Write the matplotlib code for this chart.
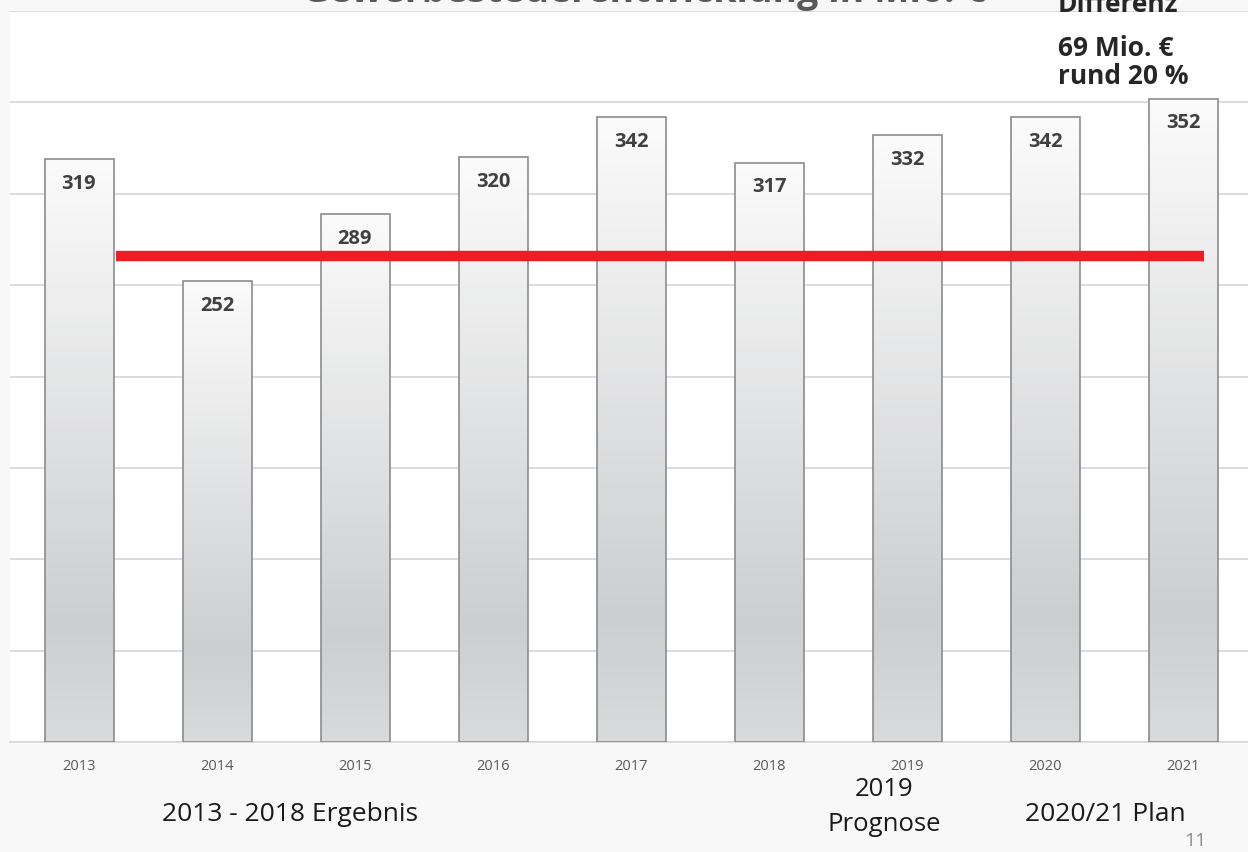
import matplotlib.pyplot as plt
import numpy as np
from matplotlib.colors import LinearSegmentedColormap

years = ["2013", "2014", "2015", "2016", "2017", "2018", "2019", "2020", "2021"]
values = [319, 252, 289, 320, 342, 317, 332, 342, 352]
red_level = 266
red_span = [0.27, 8.15]

plt.rcParams["font.family"] = ["Open Sans", "DejaVu Sans"]

fig = plt.figure(figsize=(12.48, 8.53), dpi=100, facecolor="#f8f8f8")
ax = fig.add_axes([10 / 1248, 1 - 743 / 853, 1242 / 1248, (743 - 12) / 853])
ax.set_facecolor("white")

ax.set_xlim(-0.5, len(years) - 0.5)
ax.set_ylim(0, 400)
ax.set_yticks(range(0, 401, 50))
ax.yaxis.grid(True, color="#d9d9d9", linewidth=1.3)
ax.set_axisbelow(True)
for side in ["left", "right", "top"]:
    ax.spines[side].set_visible(False)
ax.spines["bottom"].set_color("#d9d9d9")
ax.spines["bottom"].set_linewidth(1.3)
ax.tick_params(axis="y", left=False, labelleft=False)
ax.tick_params(axis="x", bottom=False, labelsize=10.5, labelcolor="#595959", pad=8)
ax.set_xticks(range(len(years)))
ax.set_xticklabels(years)

grad_cmap = LinearSegmentedColormap.from_list(
    "bar", [(0.0, "#fbfbfb"), (0.8, "#cdced0"), (1.0, "#d9dadc")])
grad = np.linspace(0, 1, 256).reshape(-1, 1)

width = 0.5
bars = ax.bar(range(len(years)), values, width=width, facecolor="none",
              edgecolor="#8c8c8c", linewidth=1.2, zorder=3)
for i, (bar, v) in enumerate(zip(bars, values)):
    im = ax.imshow(grad, cmap=grad_cmap, aspect="auto", origin="upper",
                   extent=(i - width / 2, i + width / 2, 0, v), zorder=2)
    im.set_clip_path(bar)
    ax.text(i, v - 13, str(v), ha="center", va="center", fontsize=14.5,
            fontweight="bold", color="#404040", zorder=4)
ax.set_xlim(-0.5, len(years) - 0.5)
ax.set_ylim(0, 400)

ax.plot(red_span, [red_level, red_level], color="#ee1c25", linewidth=7.5,
        solid_capstyle="butt", zorder=5)

fig.text(644 / 1248, 1 - 2 / 853, "Gewerbesteuerentwicklung in Mio. €",
         ha="center", va="baseline", fontsize=27, fontweight="bold", color="#595959")

fig.text(1058 / 1248, 1 - 4 / 853, "Differenz", ha="left", va="center",
         fontsize=19, fontweight="bold", color="#262626")
fig.text(1058 / 1248, 1 - 49 / 853, "69 Mio. €", ha="left", va="center",
         fontsize=19, fontweight="bold", color="#262626")
fig.text(1058 / 1248, 1 - 77 / 853, "rund 20 %", ha="left", va="center",
         fontsize=19, fontweight="bold", color="#262626")

fig.text(290 / 1248, 1 - 815 / 853, "2013 - 2018 Ergebnis", ha="center", va="center",
         fontsize=19, color="#1a1a1a")
fig.text(884 / 1248, 1 - 790 / 853, "2019", ha="center", va="center",
         fontsize=18.5, color="#1a1a1a")
fig.text(884 / 1248, 1 - 825 / 853, "Prognose", ha="center", va="center",
         fontsize=18.5, color="#1a1a1a")
fig.text(1105 / 1248, 1 - 815 / 853, "2020/21 Plan", ha="center", va="center",
         fontsize=19, color="#1a1a1a")
fig.text(1195 / 1248, 1 - 841 / 853, "11", ha="center", va="center",
         fontsize=14, color="#8c8c8c")

fig.savefig("out.png", dpi=100, facecolor=fig.get_facecolor())
